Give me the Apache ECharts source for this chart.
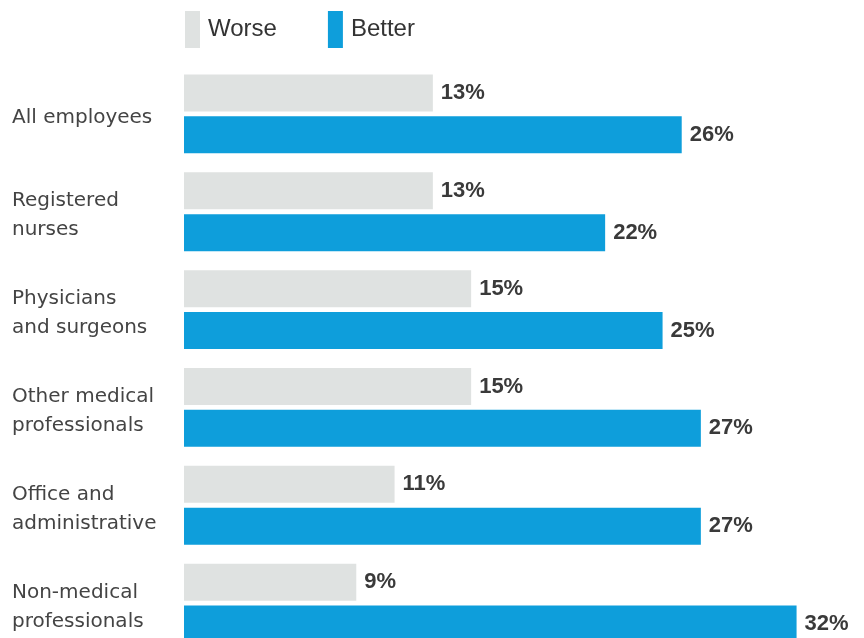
<!DOCTYPE html>
<html>
<head>
<meta charset="utf-8">
<script src="https://cdn.jsdelivr.net/npm/echarts@6/dist/echarts.min.js"></script>
<style>
  html, body { margin: 0; padding: 0; background: #fff; }
  #chart { width: 864px; height: 638px; }
</style>
</head>
<body>
<div id="chart"></div>
<script>
// Share of employees reporting each outcome, by occupation group
const categories = [
  'All employees',
  'Registered\nnurses',
  'Physicians\nand surgeons',
  'Other medical\nprofessionals',
  'Office and\nadministrative',
  'Non-medical\nprofessionals'
];
const worse = [13, 13, 15, 15, 11, 9];
const better = [26, 22, 25, 27, 27, 32];

const FONT = '"Liberation Sans", Arial, sans-serif';
const CAT_FONT = '"DejaVu Sans", "Liberation Sans", sans-serif';

const chart = echarts.init(document.getElementById('chart'), null, { renderer: 'canvas' });

const valueLabel = {
  show: true,
  position: 'right',
  distance: 8,
  formatter: '{c}%',
  fontFamily: FONT,
  fontSize: 22,
  fontWeight: 'bold',
  color: '#3a3a3a'
};

// Category names sit slightly below the middle of each group:
// a thin spacer line on top nudges the text block down.
function categoryLabel(name) {
  return '{gap| }\n' + name.split('\n').map(function (line) {
    return '{txt|' + line + '}';
  }).join('\n');
}

chart.setOption({
  animation: false,
  backgroundColor: '#ffffff',
  legend: {
    left: 185,
    top: 11,
    padding: 0,
    itemWidth: 15,
    itemHeight: 37,
    itemGap: 51,
    icon: 'rect',
    textStyle: { fontFamily: FONT, fontSize: 24, color: '#333', padding: [0, 0, 0, 3] },
    data: ['Worse', 'Better']
  },
  grid: { left: 184, top: 65, width: 670, height: 587, outerBoundsMode: 'none' },
  xAxis: {
    type: 'value',
    min: 0,
    max: 35,
    show: false
  },
  yAxis: {
    type: 'category',
    inverse: true,
    data: categories,
    axisLine: { show: false },
    axisTick: { show: false },
    axisLabel: {
      align: 'left',
      margin: 172,
      formatter: categoryLabel,
      rich: {
        gap: { fontSize: 1, lineHeight: 8 },
        txt: {
          fontFamily: CAT_FONT,
          fontSize: 20,
          lineHeight: 29,
          color: '#444'
        }
      }
    }
  },
  series: [
    {
      name: 'Worse',
      type: 'bar',
      data: worse,
      barWidth: 37,
      barGap: '13%',
      itemStyle: { color: '#dfe2e1' },
      label: valueLabel
    },
    {
      name: 'Better',
      type: 'bar',
      data: better,
      barWidth: 37,
      itemStyle: { color: '#0e9edb' },
      label: valueLabel
    }
  ]
});
</script>
</body>
</html>
